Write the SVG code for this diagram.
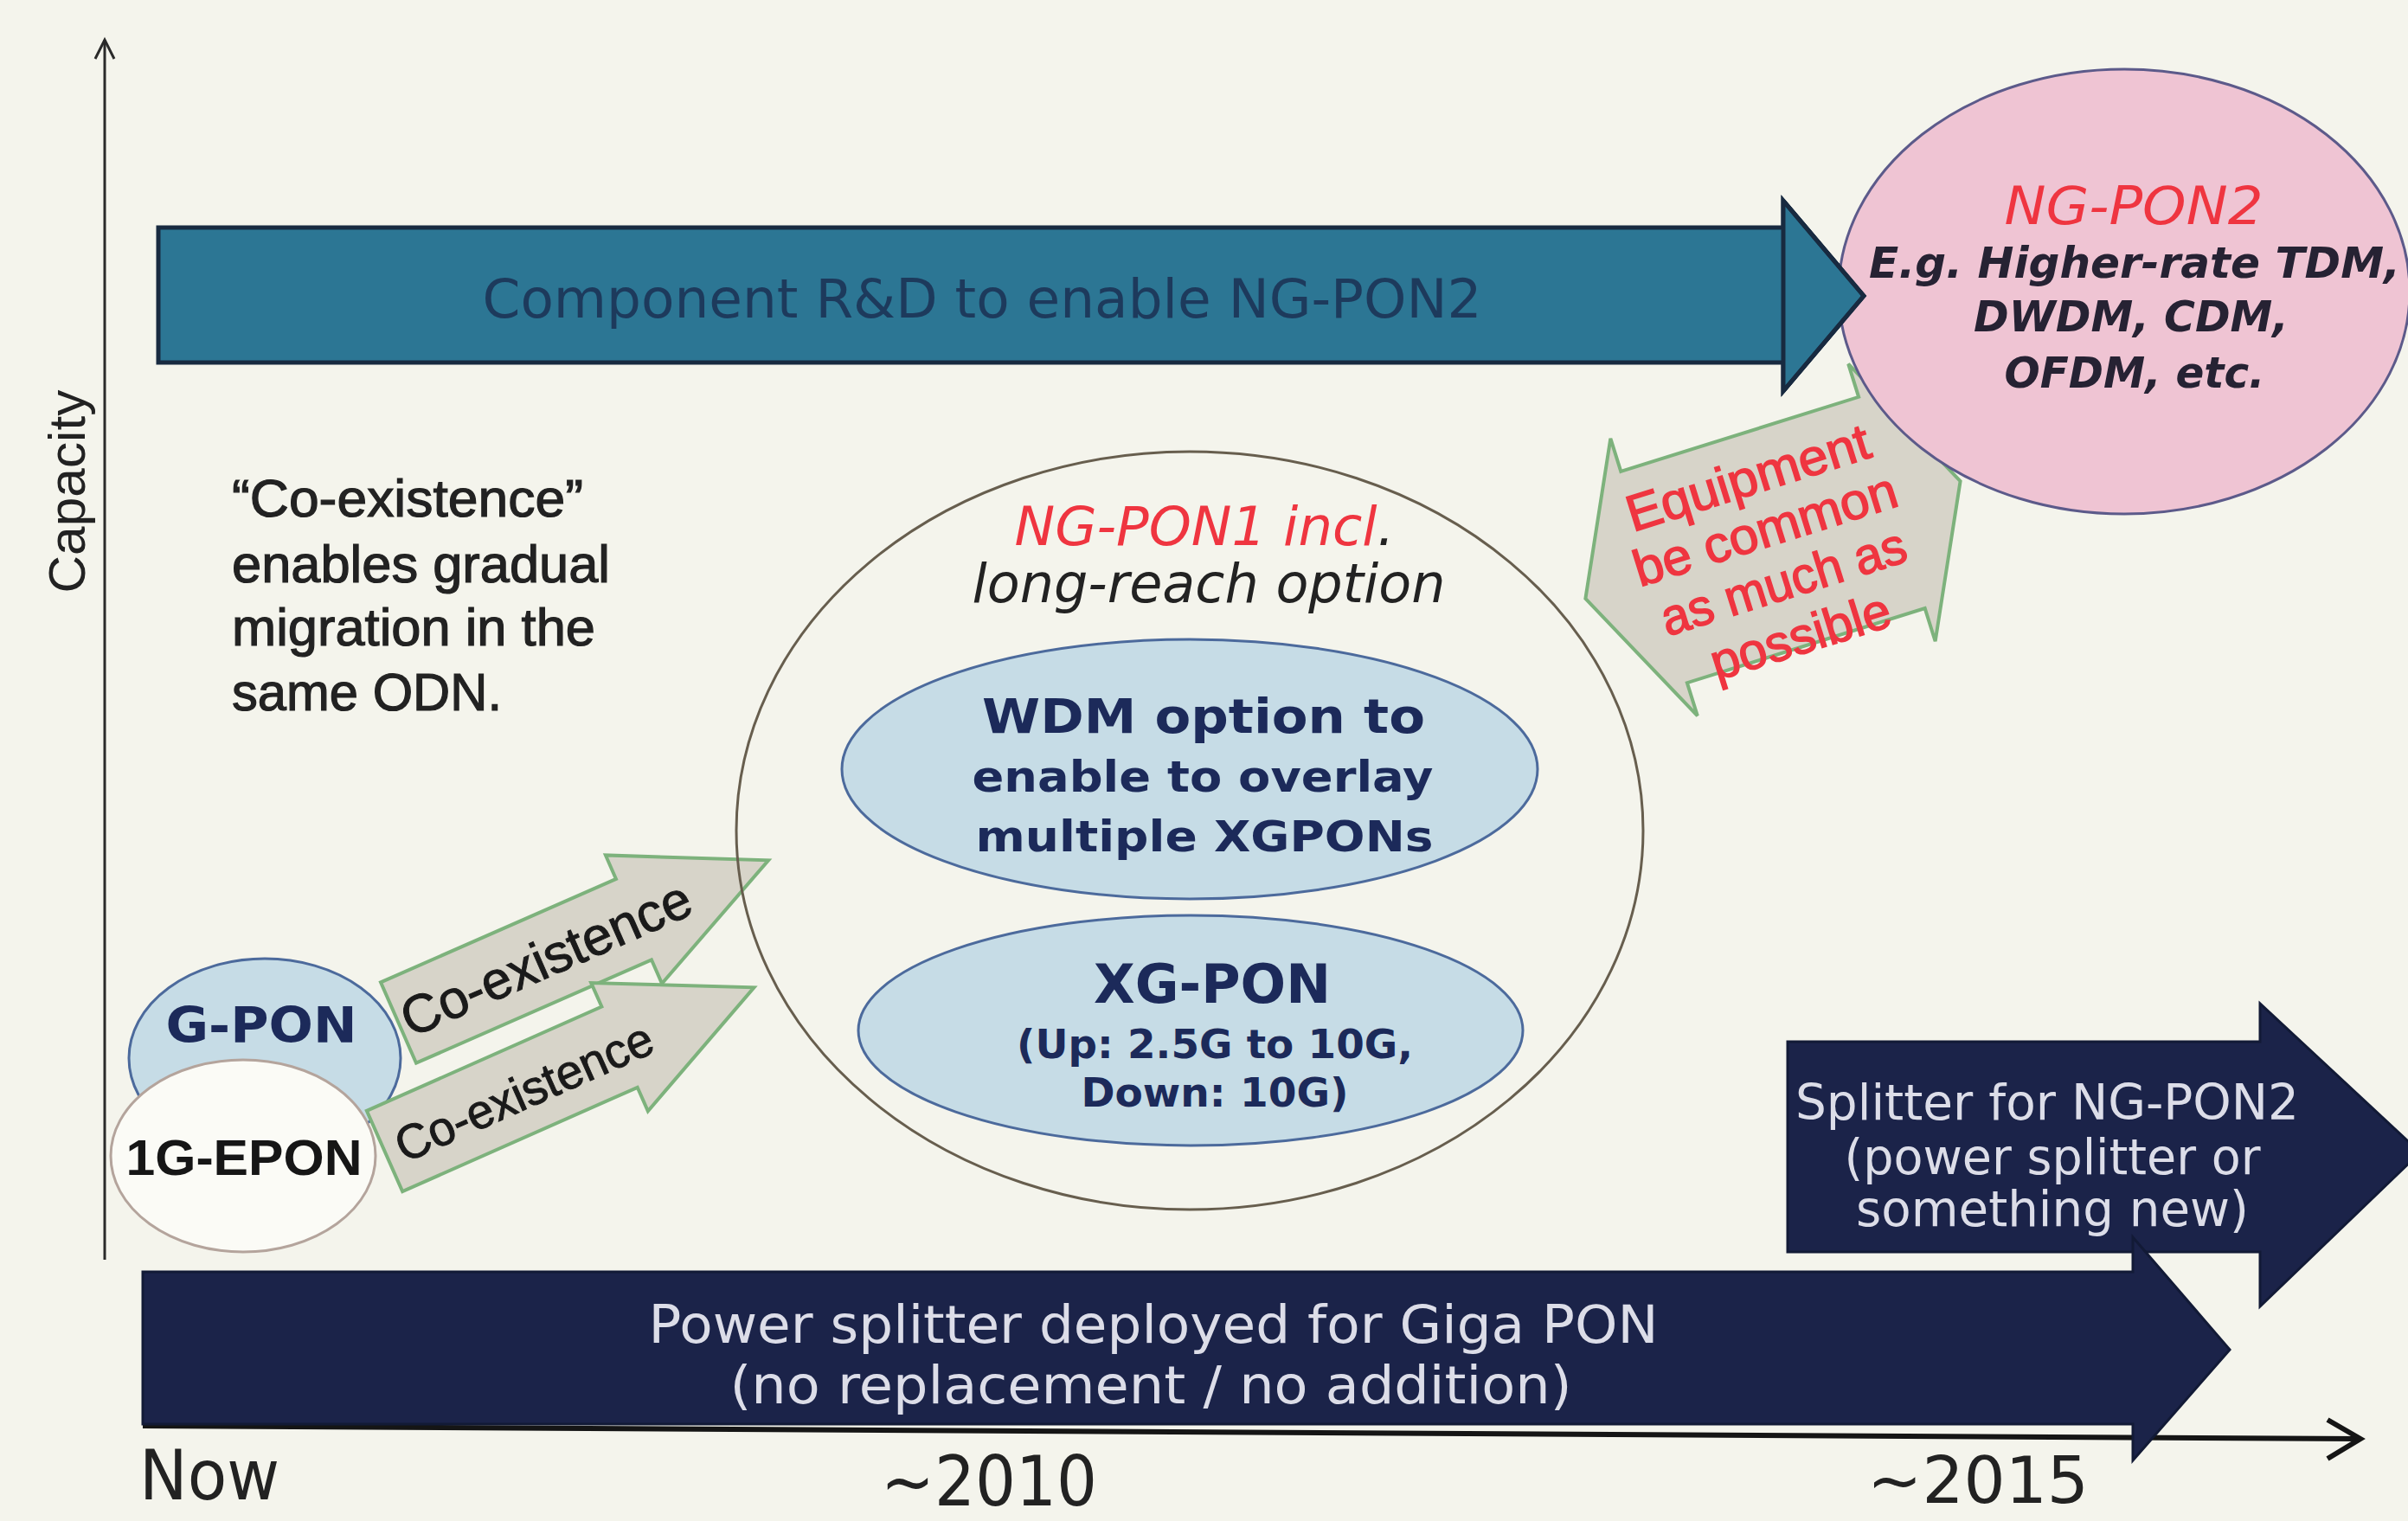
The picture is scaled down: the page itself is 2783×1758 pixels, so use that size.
<svg xmlns="http://www.w3.org/2000/svg" width="2783" height="1758" viewBox="0 0 2783 1758">
  <defs>
    <style>
      .bg { fill: #f4f4ec; }
      .axis { stroke: #2a2a2a; stroke-width: 3; fill: none; }
      .axis-x { stroke: #151515; stroke-width: 6; fill: none; }
      .teal { fill: #2c7694; stroke: #182a40; stroke-width: 5; stroke-linejoin: miter; }
      .navy { fill: #1b2349; stroke: #121a36; stroke-width: 3; }
      .pink { fill: #efc4d3; stroke: #5c5a8a; stroke-width: 3; }
      .blue { fill: #c6dce6; stroke: #4c6a9c; stroke-width: 3; }
      .white { fill: #fbfbf6; stroke: #b4a49c; stroke-width: 3; }
      .outline { fill: none; stroke: #675e4e; stroke-width: 3; }
      .block { fill: #d7d4c9; stroke: #7db27c; stroke-width: 4; stroke-linejoin: miter; }
      .sans { font-family: "Liberation Sans", Arial, sans-serif; }
      .dv { font-family: "DejaVu Sans", Verdana, sans-serif; }
      .it { font-style: italic; }
      .b { font-weight: bold; }
      .mid { text-anchor: middle; }
      .dark { fill: #222222; }
      .ink { fill: #262233; }
      .navytxt { fill: #1c2a5a; }
      .red { fill: #ef3540; }
      .light { fill: #dcdde8; }
      .heavy { stroke-width: 1.2; }
    </style>
    <!-- shared shape for the two diagonal co-existence arrows -->
    <polygon id="coex-shape" points="0,-51 297,-51 297,-81 467,0 297,81 297,51 0,51"/>
  </defs>

  <rect class="bg" x="0" y="0" width="2783" height="1758"/>

  <!-- capacity axis and timeline axis -->
  <g id="axes">
    <line class="axis" x1="121" y1="1456" x2="121" y2="46"/>
    <polyline class="axis" points="110,68 121,46 132,68"/>
    <line class="axis-x" x1="165" y1="1648" x2="2726" y2="1663"/>
    <polyline class="axis-x" points="2690,1641 2728,1663 2690,1686"/>
    <text class="sans dark mid" transform="translate(98,568) rotate(-90)" font-size="60" textLength="235" lengthAdjust="spacingAndGlyphs">Capacity</text>
  </g>

  <!-- time labels -->
  <g id="time-labels">
    <text class="dv dark" x="161" y="1733" font-size="80" textLength="162" lengthAdjust="spacingAndGlyphs">Now</text>
    <text class="dv dark mid" x="1143" y="1740" font-size="80" textLength="250" lengthAdjust="spacingAndGlyphs">~2010</text>
    <text class="dv dark mid" x="2286" y="1737" font-size="74" textLength="256" lengthAdjust="spacingAndGlyphs">~2015</text>
  </g>

  <!-- component R&D band -->
  <g id="component-rd">
    <polygon class="teal" points="183,263 2061,263 2061,232 2154,342 2061,452 2061,419 183,419"/>
    <text class="dv mid" x="1135" y="367" font-size="63" fill="#1d3a5c" textLength="1155" lengthAdjust="spacingAndGlyphs">Component R&amp;D to enable NG-PON2</text>
  </g>

  <!-- note on co-existence -->
  <g id="coexistence-note" class="sans dark">
    <text x="268" y="597" font-size="61" stroke="#222" class="heavy" textLength="406" lengthAdjust="spacingAndGlyphs">“Co-existence”</text>
    <text x="268" y="673" font-size="61" stroke="#222" class="heavy" textLength="437" lengthAdjust="spacingAndGlyphs">enables gradual</text>
    <text x="268" y="746" font-size="61" stroke="#222" class="heavy" textLength="420" lengthAdjust="spacingAndGlyphs">migration in the</text>
    <text x="268" y="821" font-size="61" stroke="#222" class="heavy" textLength="312" lengthAdjust="spacingAndGlyphs">same ODN.</text>
  </g>

  <!-- existing PON generations -->
  <g id="g-pon">
    <ellipse class="blue" cx="306" cy="1223" rx="157" ry="115"/>
    <text class="dv b navytxt mid" x="302" y="1205" font-size="57" textLength="221" lengthAdjust="spacingAndGlyphs">G-PON</text>
  </g>
  <g id="1g-epon">
    <ellipse class="white" cx="281" cy="1336" rx="153" ry="111"/>
    <text class="sans b mid" x="282" y="1358" font-size="58" fill="#161616" textLength="273" lengthAdjust="spacingAndGlyphs">1G-EPON</text>
  </g>

  <!-- splitter bands -->
  <g id="splitter-ngpon2">
    <polygon class="navy" points="2066,1204 2612,1204 2612,1160 2797,1332 2612,1510 2612,1447 2066,1447"/>
    <text class="dv light mid" x="2366" y="1294" font-size="57" textLength="582" lengthAdjust="spacingAndGlyphs">Splitter for NG-PON2</text>
    <text class="dv light mid" x="2372" y="1357" font-size="57" textLength="481" lengthAdjust="spacingAndGlyphs">(power splitter or</text>
    <text class="dv light mid" x="2372" y="1417" font-size="57" textLength="454" lengthAdjust="spacingAndGlyphs">something new)</text>
  </g>
  <g id="power-splitter">
    <polygon class="navy" points="165,1470 2465,1470 2465,1430 2577,1560 2465,1688 2465,1646 165,1646"/>
    <text class="dv light mid" x="1333" y="1552" font-size="61" textLength="1167" lengthAdjust="spacingAndGlyphs">Power splitter deployed for Giga PON</text>
    <text class="dv light mid" x="1330" y="1622" font-size="61" textLength="973" lengthAdjust="spacingAndGlyphs">(no replacement / no addition)</text>
  </g>

  <!-- NG-PON1 family -->
  <g id="wdm-option">
    <ellipse class="blue" cx="1375" cy="889" rx="402" ry="150"/>
    <text class="dv b navytxt mid" x="1391" y="847" font-size="56" textLength="512" lengthAdjust="spacingAndGlyphs">WDM option to</text>
    <text class="dv b navytxt mid" x="1390" y="915" font-size="50" textLength="533" lengthAdjust="spacingAndGlyphs">enable to overlay</text>
    <text class="dv b navytxt mid" x="1392" y="984" font-size="50" textLength="529" lengthAdjust="spacingAndGlyphs">multiple XGPONs</text>
  </g>
  <g id="xg-pon">
    <ellipse class="blue" cx="1376" cy="1191" rx="384" ry="133"/>
    <text class="dv b navytxt mid" x="1401" y="1159" font-size="62" textLength="274" lengthAdjust="spacingAndGlyphs">XG-PON</text>
    <text class="dv b navytxt mid" x="1404" y="1223" font-size="46" textLength="458" lengthAdjust="spacingAndGlyphs">(Up: 2.5G to 10G,</text>
    <text class="dv b navytxt mid" x="1404" y="1279" font-size="46" textLength="309" lengthAdjust="spacingAndGlyphs">Down: 10G)</text>
  </g>

  <!-- block arrows between generations -->
  <g id="connectors">
    <g id="coexistence-gpon" transform="translate(460.5,1182) rotate(-23.7)">
      <use href="#coex-shape" class="block"/>
      <text class="sans mid" x="186" y="22" font-size="62" fill="#1a1a1a" stroke="#1a1a1a" stroke-width="1" textLength="360" lengthAdjust="spacingAndGlyphs">Co-existence</text>
    </g>
    <g id="coexistence-epon" transform="translate(444.5,1330.5) rotate(-23.9)">
      <use href="#coex-shape" class="block"/>
      <text class="sans mid" x="175" y="22" font-size="56" fill="#1a1a1a" stroke="#1a1a1a" stroke-width="1" textLength="320" lengthAdjust="spacingAndGlyphs">Co-existence</text>
    </g>
    <g id="equipment-common" transform="translate(2049,624) rotate(-17.4)">
      <polygon class="block" points="-144,-128 144,-128 144,-168 227,0 144,168 144,128 -144,128 -144,168 -227,0 -144,-168"/>
      <g class="sans mid red" stroke="#ef3540" stroke-width="1.5" font-size="59">
        <text x="-6" y="-57" textLength="292" lengthAdjust="spacingAndGlyphs">Equipment</text>
        <text x="-5" y="6" textLength="316" lengthAdjust="spacingAndGlyphs">be common</text>
        <text x="-3" y="70" textLength="294" lengthAdjust="spacingAndGlyphs">as much as</text>
        <text x="-3" y="136" textLength="215" lengthAdjust="spacingAndGlyphs">possible</text>
      </g>
    </g>
  </g>

  <g id="ng-pon1">
    <ellipse class="outline" cx="1375" cy="960" rx="524" ry="438"/>
    <text class="dv it mid" x="1392" y="630" font-size="62" textLength="439" lengthAdjust="spacingAndGlyphs"><tspan class="red">NG-PON1 incl</tspan><tspan fill="#222">.</tspan></text>
    <text class="dv it mid dark" x="1397" y="696" font-size="62" textLength="547" lengthAdjust="spacingAndGlyphs">long-reach option</text>
  </g>

  <g id="ng-pon2">
    <ellipse class="pink" cx="2455" cy="337" rx="330" ry="257"/>
    <text class="dv it red mid" x="2466" y="259" font-size="60" textLength="299" lengthAdjust="spacingAndGlyphs">NG-PON2</text>
    <text class="dv it b ink mid" x="2467" y="321" font-size="49" textLength="614" lengthAdjust="spacingAndGlyphs">E.g. Higher-rate TDM,</text>
    <text class="dv it b ink mid" x="2463" y="383" font-size="49" textLength="364" lengthAdjust="spacingAndGlyphs">DWDM, CDM,</text>
    <text class="dv it b ink mid" x="2467" y="448" font-size="49" textLength="301" lengthAdjust="spacingAndGlyphs">OFDM, etc.</text>
  </g>

  <!-- the R&D band tip sits over the NG-PON2 bubble -->
  <polygon class="teal" points="2061,232 2154,342 2061,452" stroke="none"/>
  <polyline fill="none" stroke="#182a40" stroke-width="5" points="2061,232 2154,342 2061,452"/>
</svg>
